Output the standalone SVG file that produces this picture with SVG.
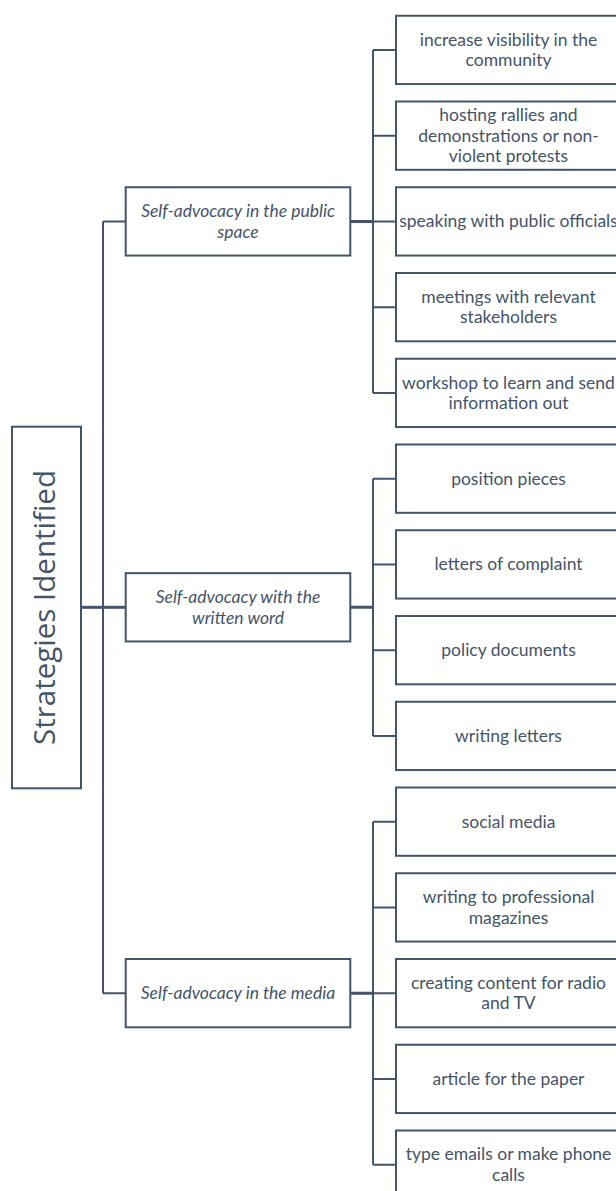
<svg xmlns="http://www.w3.org/2000/svg" width="616" height="1191" viewBox="0 0 616 1191">
<style>
.box{fill:#fff;stroke:#44546A;stroke-width:2}
.ln{fill:none;stroke:#44546A;stroke-width:2}
.lnb{fill:none;stroke:#44546A;stroke-width:3}
.t{font-family:Lato,"Liberation Sans",sans-serif;font-size:17.5px;fill:#44546A;text-anchor:middle}
.ti{font-style:italic}
.root{font-family:"Open Sans","Liberation Sans",sans-serif;font-size:29.5px;font-weight:400;fill:#44546A;text-anchor:middle}
</style>
<rect width="616" height="1191" fill="#fff"/>
<g id="connectors">
<path class="lnb" d="M81 607.3H103"/>
<path class="ln" d="M103 221.4V993.15M103 221.4H125.7M103 993.15H125.7"/>
<path class="lnb" d="M103 607.3H125.7"/>
<path class="lnb" d="M350.3 221.4H373M350.3 607.3H373M350.3 993.15H373"/>
<path class="ln" d="M373 49.9V392.9M373 49.9H396M373 135.65H396M373 221.4H396M373 307.15H396M373 392.9H396"/>
<path class="ln" d="M373 478.65V735.9M373 478.65H396M373 564.4H396M373 650.15H396M373 735.9H396"/>
<path class="ln" d="M373 821.65V1164.65M373 821.65H396M373 907.4H396M373 993.15H396M373 1078.9H396M373 1164.65H396"/>
</g>
<g id="root">
<rect class="box" x="12" y="426.7" width="69" height="361.6"/>
<text class="root" transform="translate(54.5,607.5) rotate(-90)">Strategies Identified</text>
</g>
<g id="mid-public">
<rect class="box" x="125.7" y="187.25" width="224.6" height="68.3"/>
<text class="t ti" x="238" y="217.15">Self-advocacy in the public</text>
<text class="t ti" x="238" y="237.65">space</text>
</g>
<g id="mid-written">
<rect class="box" x="125.7" y="573.15" width="224.6" height="68.3"/>
<text class="t ti" x="238" y="603.05">Self-advocacy with the</text>
<text class="t ti" x="238" y="623.55">written word</text>
</g>
<g id="mid-media">
<rect class="box" x="125.7" y="959" width="224.6" height="68.3"/>
<text class="t ti" x="238" y="999.15">Self-advocacy in the media</text>
</g>
<g id="leaf1">
<rect class="box" x="396" y="15.75" width="225" height="68.3"/>
<text class="t" x="508.5" y="45.65">increase visibility in the</text>
<text class="t" x="508.5" y="66.15">community</text>
</g>
<g id="leaf2">
<rect class="box" x="396" y="101.5" width="225" height="68.3"/>
<text class="t" x="508.5" y="121.15">hosting rallies and</text>
<text class="t" x="508.5" y="141.65">demonstrations or non-</text>
<text class="t" x="508.5" y="162.15">violent protests</text>
</g>
<g id="leaf3">
<rect class="box" x="396" y="187.25" width="225" height="68.3"/>
<text class="t" x="508.5" y="227.4">speaking with public officials</text>
</g>
<g id="leaf4">
<rect class="box" x="396" y="273" width="225" height="68.3"/>
<text class="t" x="508.5" y="302.9">meetings with relevant</text>
<text class="t" x="508.5" y="323.4">stakeholders</text>
</g>
<g id="leaf5">
<rect class="box" x="396" y="358.75" width="225" height="68.3"/>
<text class="t" x="508.5" y="388.65">workshop to learn and send</text>
<text class="t" x="508.5" y="409.15">information out</text>
</g>
<g id="leaf6">
<rect class="box" x="396" y="444.5" width="225" height="68.3"/>
<text class="t" x="508.5" y="484.65">position pieces</text>
</g>
<g id="leaf7">
<rect class="box" x="396" y="530.25" width="225" height="68.3"/>
<text class="t" x="508.5" y="570.4">letters of complaint</text>
</g>
<g id="leaf8">
<rect class="box" x="396" y="616" width="225" height="68.3"/>
<text class="t" x="508.5" y="656.15">policy documents</text>
</g>
<g id="leaf9">
<rect class="box" x="396" y="701.75" width="225" height="68.3"/>
<text class="t" x="508.5" y="741.9">writing letters</text>
</g>
<g id="leaf10">
<rect class="box" x="396" y="787.5" width="225" height="68.3"/>
<text class="t" x="508.5" y="827.65">social media</text>
</g>
<g id="leaf11">
<rect class="box" x="396" y="873.25" width="225" height="68.3"/>
<text class="t" x="508.5" y="903.15">writing to professional</text>
<text class="t" x="508.5" y="923.65">magazines</text>
</g>
<g id="leaf12">
<rect class="box" x="396" y="959" width="225" height="68.3"/>
<text class="t" x="508.5" y="988.9">creating content for radio</text>
<text class="t" x="508.5" y="1009.4">and TV</text>
</g>
<g id="leaf13">
<rect class="box" x="396" y="1044.75" width="225" height="68.3"/>
<text class="t" x="508.5" y="1084.9">article for the paper</text>
</g>
<g id="leaf14">
<rect class="box" x="396" y="1130.5" width="225" height="68.3"/>
<text class="t" x="508.5" y="1160.4">type emails or make phone</text>
<text class="t" x="508.5" y="1180.9">calls</text>
</g>
</svg>
